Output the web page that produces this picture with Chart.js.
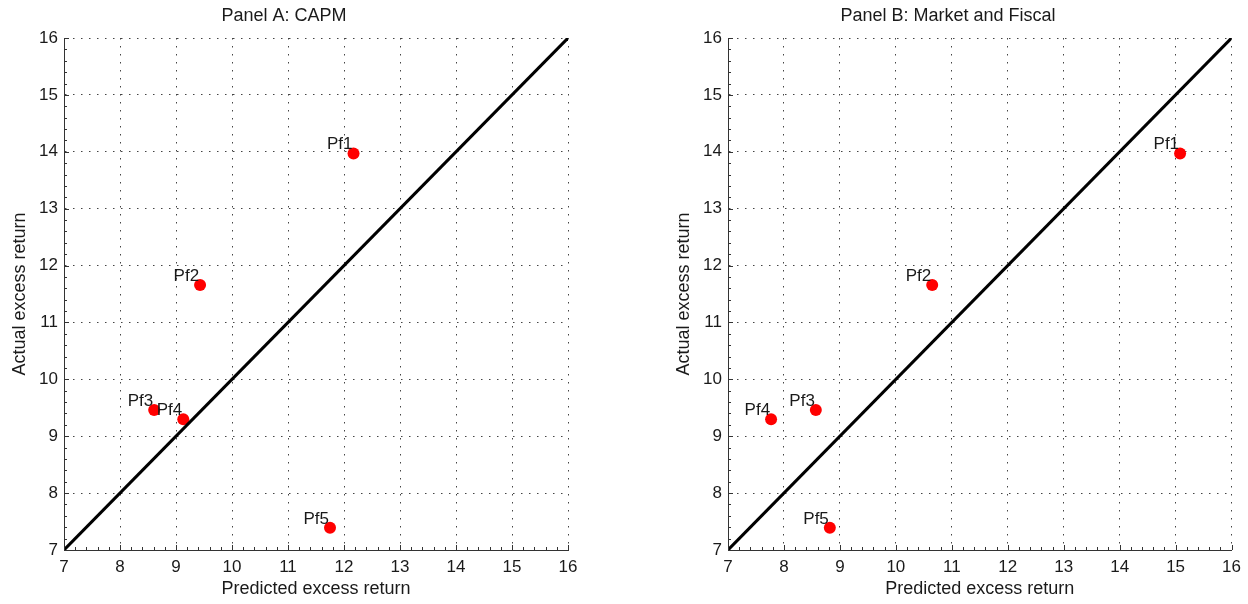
<!DOCTYPE html>
<html>
<head>
<meta charset="utf-8">
<script src="https://cdn.jsdelivr.net/npm/chart.js@4"></script>
<style>
  body { margin: 0; background: #fff; }
  #wrap { position: relative; width: 1248px; height: 604px; }
  canvas { position: absolute; top: 0; }
</style>
</head>
<body>
<div id="wrap">
  <canvas id="panelA" width="624" height="604" style="left:0"></canvas>
  <canvas id="panelB" width="624" height="604" style="left:624px"></canvas>
</div>
<script>
// portfolio names and actual excess returns (same for both panels)
const portfolios = ["Pf1", "Pf2", "Pf3", "Pf4", "Pf5"];
const actualReturn = [13.97, 11.66, 9.46, 9.30, 7.39];
// predicted excess returns
const capmPredicted = [12.17, 9.43, 8.61, 9.13, 11.75];
const fiscalPredicted = [15.08, 10.65, 8.57, 7.77, 8.82];
// 45 degree reference line end points and axis range
const diagonal = [7, 16];
const axisMin = 7;
const axisMax = 16;

const FONT = "'Liberation Sans', Arial, Helvetica, sans-serif";
const TEXT = "#1a1a1a";

// inward major/minor ticks on the left and bottom axes
const innerTicks = {
  id: "innerTicks",
  afterDraw(chart) {
    const { ctx, chartArea } = chart;
    const xs = chart.scales.x, ys = chart.scales.y;
    ctx.save();
    ctx.strokeStyle = "#333";
    ctx.lineWidth = 1;
    for (let v = axisMin; v <= axisMax + 1e-9; v += 0.2) {
      const major = Math.abs(v - Math.round(v)) < 1e-6;
      const len = major ? 5 : 3;
      const px = Math.round(xs.getPixelForValue(v)) + 0.5;
      const py = Math.round(ys.getPixelForValue(v)) + 0.5;
      ctx.beginPath();
      ctx.moveTo(px, chartArea.bottom);
      ctx.lineTo(px, chartArea.bottom - len);
      ctx.moveTo(chartArea.left, py);
      ctx.lineTo(chartArea.left + len, py);
      ctx.stroke();
    }
    ctx.restore();
  }
};

// text labels next to each portfolio point
const pointLabels = {
  id: "pointLabels",
  afterDatasetsDraw(chart) {
    const { ctx } = chart;
    const meta = chart.getDatasetMeta(1);
    ctx.save();
    ctx.font = "17px " + FONT;
    ctx.fillStyle = TEXT;
    ctx.textAlign = "right";
    ctx.textBaseline = "alphabetic";
    meta.data.forEach((pt, i) => {
      ctx.fillText(portfolios[i], pt.x - 1, pt.y - 4);
    });
    ctx.restore();
  }
};

function makePanel(canvas, title, predicted, padLeft, padRight) {
  const scaleBase = {
    type: "linear",
    min: axisMin,
    max: axisMax,
    grid: {
      color: "#444",
      lineWidth: 1,
      drawTicks: false
    },
    border: { display: true, color: "#333", width: 1, dash: [1.5, 6.5] },
    ticks: {
      stepSize: 1,
      color: TEXT,
      font: { family: FONT, size: 17 }
    },
    title: {
      display: true,
      color: TEXT,
      font: { family: FONT, size: 18 }
    }
  };
  return new Chart(canvas, {
    type: "scatter",
    data: {
      datasets: [
        {
          type: "line",
          data: diagonal.map(v => ({ x: v, y: v })),
          borderColor: "#000",
          borderWidth: 3,
          pointRadius: 0,
          fill: false
        },
        {
          data: predicted.map((p, i) => ({ x: p, y: actualReturn[i] })),
          backgroundColor: "#ff0000",
          borderWidth: 0,
          pointRadius: 6
        }
      ]
    },
    options: {
      responsive: false,
      animation: false,
      devicePixelRatio: 1,
      layout: { padding: { left: padLeft, right: padRight, top: 0, bottom: 0 } },
      plugins: {
        legend: { display: false },
        tooltip: { enabled: false },
        title: {
          display: true,
          text: title,
          color: TEXT,
          font: { family: FONT, size: 18, weight: "normal" },
          padding: { top: 5, bottom: 11.4 }
        }
      },
      scales: {
        x: {
          ...scaleBase,
          ticks: { ...scaleBase.ticks, padding: 7, maxRotation: 0 },
          title: { ...scaleBase.title, text: "Predicted excess return", padding: { top: 0, bottom: 4 } },
          afterFit(scale) { scale.height = 54; }
        },
        y: {
          ...scaleBase,
          ticks: { ...scaleBase.ticks, padding: 6 },
          title: { ...scaleBase.title, text: "Actual excess return", padding: { top: 9, bottom: 0 } },
          afterFit(scale) { scale.width = 64; }
        }
      }
    },
    plugins: [innerTicks, pointLabels]
  });
}

makePanel(document.getElementById("panelA"), "Panel A: CAPM", capmPredicted, 0, 56);
makePanel(document.getElementById("panelB"), "Panel B: Market and Fiscal", fiscalPredicted, 40, 16);
</script>
</body>
</html>
